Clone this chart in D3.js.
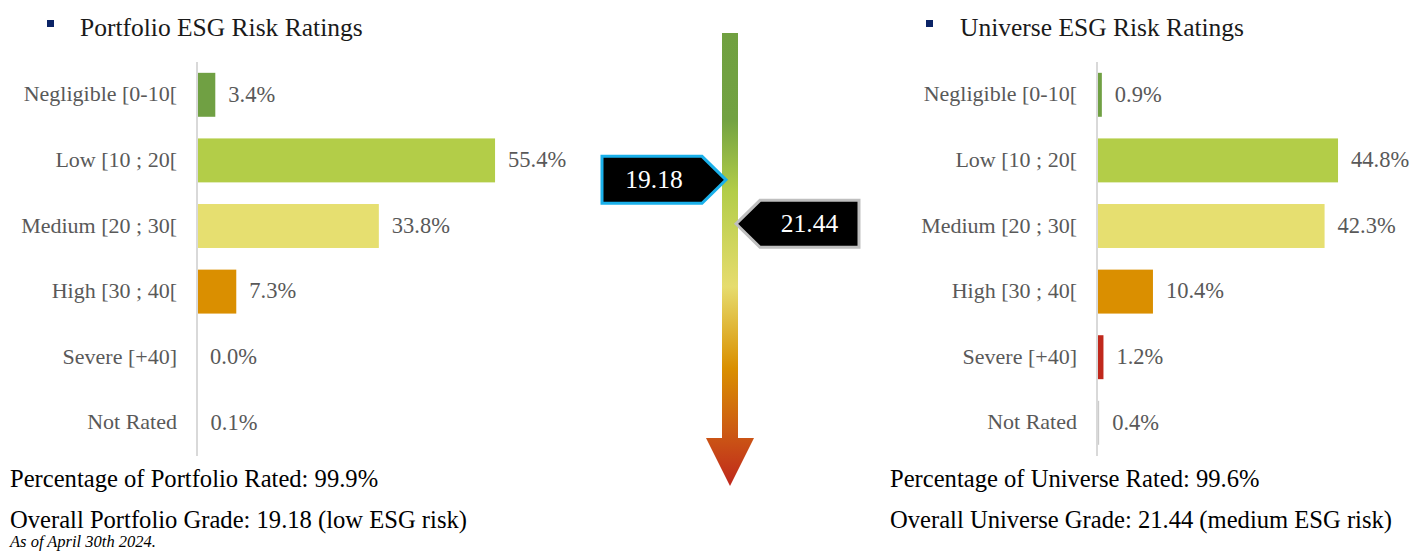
<!DOCTYPE html>
<html>
<head>
<meta charset="utf-8">
<script src="https://cdn.jsdelivr.net/npm/d3@7"></script>
<style>
  html, body { margin: 0; padding: 0; background: #ffffff; }
  svg { display: block; }
  text { font-family: "Liberation Serif", "DejaVu Serif", serif; }
</style>
</head>
<body>
<svg id="chart" width="1415" height="554"></svg>
<script>
// ---------- data ----------
const categories = ["Negligible [0-10[", "Low [10 ; 20[", "Medium [20 ; 30[", "High [30 ; 40[", "Severe [+40]", "Not Rated"];
const portfolioValues = [3.4, 55.4, 33.8, 7.3, 0.0, 0.1];
const universeValues = [0.9, 44.8, 42.3, 10.4, 1.2, 0.4];
const categoryColors = ["#70a043", "#b3cd48", "#e6df70", "#da8f00", "#c0281c", "#cccccc"];
const titles = ["Portfolio ESG Risk Ratings", "Universe ESG Risk Ratings"];
const ratedLines = ["Percentage of Portfolio Rated: 99.9%", "Percentage of Universe Rated: 99.6%"];
const gradeLines = ["Overall Portfolio Grade: 19.18 (low ESG risk)", "Overall Universe Grade: 21.44 (medium ESG risk)"];
const grades = [19.18, 21.44];
const footnote = "As of April 30th 2024.";

// ---------- setup ----------
const svg = d3.select("#chart");
const y = d3.scaleBand().domain(categories).range([62, 455.6]).paddingInner(0.33).paddingOuter(0.165);
const x = d3.scaleLinear().domain([0, 100]).range([0, 538]);

function drawPanel(opts) {
  const g = svg.append("g").attr("transform", `translate(${opts.axisX},0)`);
  svg.append("rect").attr("x", opts.squareX).attr("y", 20).attr("width", 7).attr("height", 7).attr("fill", "#0b2466");
  svg.append("text").attr("x", opts.titleX).attr("y", 36).attr("font-size", 25.5).attr("fill", "#1a1a1a").text(opts.title);
  g.selectAll("rect.bar").data(opts.values).join("rect")
    .attr("class", "bar")
    .attr("x", 0)
    .attr("y", (d, i) => y(categories[i]))
    .attr("width", d => x(d))
    .attr("height", y.bandwidth())
    .attr("fill", (d, i) => categoryColors[i]);
  g.append("line").attr("x1", 0).attr("x2", 0).attr("y1", 62).attr("y2", 456)
    .attr("stroke", "#d9d9d9").attr("stroke-width", 2);
  g.selectAll("text.cat").data(categories).join("text")
    .attr("class", "cat")
    .attr("x", -20)
    .attr("y", d => y(d) + y.bandwidth() / 2)
    .attr("dy", "0.3em")
    .attr("text-anchor", "end")
    .attr("font-size", 22)
    .attr("fill", "#595959")
    .text(d => d);
  g.selectAll("text.val").data(opts.values).join("text")
    .attr("class", "val")
    .attr("x", d => x(d) + 13)
    .attr("y", (d, i) => y(categories[i]) + y.bandwidth() / 2)
    .attr("dy", "0.3em")
    .attr("font-size", 22.5)
    .attr("fill", "#595959")
    .text(d => d.toFixed(1) + "%");
  svg.append("text").attr("x", opts.textX).attr("y", 487).attr("font-size", 24.6).attr("fill", "#000").text(opts.rated);
  svg.append("text").attr("x", opts.textX).attr("y", 528).attr("font-size", 24.6).attr("fill", "#000").text(opts.grade);
}

drawPanel({axisX: 197, squareX: 47, titleX: 80, title: titles[0], values: portfolioValues, textX: 10, rated: ratedLines[0], grade: gradeLines[0]});
drawPanel({axisX: 1097, squareX: 926, titleX: 960, title: titles[1], values: universeValues, textX: 890, rated: ratedLines[1], grade: gradeLines[1]});

svg.append("text").attr("x", 10).attr("y", 547).attr("font-size", 16.5).attr("font-style", "italic").attr("fill", "#000").text(footnote);

// ---------- central gradient arrow ----------
const defs = svg.append("defs");
const grad = defs.append("linearGradient").attr("id", "arrowGrad")
  .attr("gradientUnits", "userSpaceOnUse").attr("x1", 0).attr("x2", 0).attr("y1", 33).attr("y2", 486);
[[0, "#70a040"], [0.19, "#72a242"], [0.35, "#b3cd48"], [0.56, "#e6dc6e"], [0.74, "#da9000"], [0.88, "#cc5a14"], [1, "#bf271c"]]
  .forEach(([o, c]) => grad.append("stop").attr("offset", o).attr("stop-color", c));

const ax = 730, shaftW = 16, headW = 48, arrowTop = 33, headTop = 438, arrowTip = 486;
svg.append("path")
  .attr("d", d3.line()([
    [ax - shaftW / 2, arrowTop], [ax + shaftW / 2, arrowTop], [ax + shaftW / 2, headTop], [ax + headW / 2, headTop],
    [ax, arrowTip], [ax - headW / 2, headTop], [ax - shaftW / 2, headTop]
  ]) + "Z")
  .attr("fill", "url(#arrowGrad)");

const gy = d3.scaleLinear().domain([10, 35]).range([1, 488]);

{
  const ty = gy(grades[0]), tx = ax - 4, bw = 100, h = 47, pt = 24;
  svg.append("path")
    .attr("d", d3.line()([[tx - pt - bw, ty - h / 2], [tx - pt, ty - h / 2], [tx, ty], [tx - pt, ty + h / 2], [tx - pt - bw, ty + h / 2]]) + "Z")
    .attr("fill", "#000").attr("stroke", "#1ab0ea").attr("stroke-width", 3).attr("stroke-linejoin", "miter");
  svg.append("text").attr("x", tx - pt - bw / 2 + 2).attr("y", ty).attr("dy", "0.33em")
    .attr("text-anchor", "middle").attr("font-size", 25.5).attr("fill", "#fff").text(grades[0].toFixed(2));
}
{
  const ty = gy(grades[1]), tx = ax + 6, bw = 99, h = 47, pt = 24;
  svg.append("path")
    .attr("d", d3.line()([[tx, ty], [tx + pt, ty - h / 2], [tx + pt + bw, ty - h / 2], [tx + pt + bw, ty + h / 2], [tx + pt, ty + h / 2]]) + "Z")
    .attr("fill", "#000").attr("stroke", "#bfbfbf").attr("stroke-width", 3).attr("stroke-linejoin", "miter");
  svg.append("text").attr("x", tx + pt + bw / 2).attr("y", ty).attr("dy", "0.33em")
    .attr("text-anchor", "middle").attr("font-size", 25.5).attr("fill", "#fff").text(grades[1].toFixed(2));
}
</script>
</body>
</html>
